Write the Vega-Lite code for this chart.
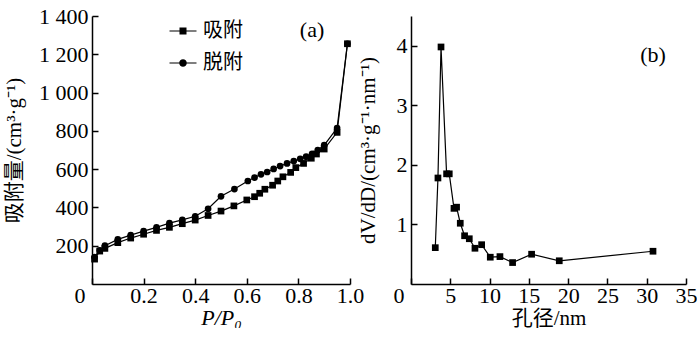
{
  "$schema": "https://vega.github.io/schema/vega-lite/v6.json",
  "autosize": {"type": "pad"},
  "padding": {"left": 3, "top": 5, "right": 0, "bottom": 0},
  "background": "white",
  "spacing": 61,
  "bounds": "flush",
  "config": {
    "view": {"stroke": null},
    "font": "Liberation Serif, Noto Sans CJK SC",
    "axis": {
      "grid": false,
      "domainColor": "black",
      "domainWidth": 1.5,
      "tickColor": "black",
      "tickWidth": 1.5,
      "tickSize": -6,
      "labelPadding": 10,
      "labelOverlap": false,
      "labelFont": "Liberation Serif",
      "labelFontSize": 22,
      "labelColor": "black",
      "titleFont": "Liberation Serif, Noto Sans CJK SC",
      "titleFontSize": 21,
      "titleFontWeight": "normal",
      "titleColor": "black"
    },
    "axisX": {"labelPadding": 7, "titlePadding": 1},
    "legend": {
      "labelFont": "Liberation Serif, Noto Sans CJK SC",
      "labelFontSize": 20,
      "labelColor": "black"
    }
  },
  "datasets": {
    "iso": [
      {"p": 0.01, "v": 130, "series": "吸附"},
      {"p": 0.03, "v": 172, "series": "吸附"},
      {"p": 0.05, "v": 186, "series": "吸附"},
      {"p": 0.10, "v": 216, "series": "吸附"},
      {"p": 0.15, "v": 240, "series": "吸附"},
      {"p": 0.20, "v": 260, "series": "吸附"},
      {"p": 0.25, "v": 280, "series": "吸附"},
      {"p": 0.30, "v": 296, "series": "吸附"},
      {"p": 0.35, "v": 315, "series": "吸附"},
      {"p": 0.40, "v": 334, "series": "吸附"},
      {"p": 0.45, "v": 358, "series": "吸附"},
      {"p": 0.50, "v": 381, "series": "吸附"},
      {"p": 0.55, "v": 408, "series": "吸附"},
      {"p": 0.60, "v": 439, "series": "吸附"},
      {"p": 0.63, "v": 456, "series": "吸附"},
      {"p": 0.65, "v": 474, "series": "吸附"},
      {"p": 0.67, "v": 495, "series": "吸附"},
      {"p": 0.70, "v": 516, "series": "吸附"},
      {"p": 0.72, "v": 538, "series": "吸附"},
      {"p": 0.74, "v": 560, "series": "吸附"},
      {"p": 0.77, "v": 583, "series": "吸附"},
      {"p": 0.79, "v": 608, "series": "吸附"},
      {"p": 0.82, "v": 630, "series": "吸附"},
      {"p": 0.85, "v": 657, "series": "吸附"},
      {"p": 0.87, "v": 679, "series": "吸附"},
      {"p": 0.90, "v": 705, "series": "吸附"},
      {"p": 0.95, "v": 792, "series": "吸附"},
      {"p": 0.99, "v": 1255, "series": "吸附"},
      {"p": 0.01, "v": 140, "series": "脱附"},
      {"p": 0.03, "v": 176, "series": "脱附"},
      {"p": 0.05, "v": 200, "series": "脱附"},
      {"p": 0.10, "v": 233, "series": "脱附"},
      {"p": 0.15, "v": 255, "series": "脱附"},
      {"p": 0.20, "v": 276, "series": "脱附"},
      {"p": 0.25, "v": 296, "series": "脱附"},
      {"p": 0.30, "v": 318, "series": "脱附"},
      {"p": 0.35, "v": 335, "series": "脱附"},
      {"p": 0.40, "v": 354, "series": "脱附"},
      {"p": 0.45, "v": 393, "series": "脱附"},
      {"p": 0.50, "v": 458, "series": "脱附"},
      {"p": 0.552, "v": 496, "series": "脱附"},
      {"p": 0.604, "v": 538, "series": "脱附"},
      {"p": 0.63, "v": 556, "series": "脱附"},
      {"p": 0.655, "v": 573, "series": "脱附"},
      {"p": 0.679, "v": 585, "series": "脱附"},
      {"p": 0.704, "v": 601, "series": "脱附"},
      {"p": 0.729, "v": 616, "series": "脱附"},
      {"p": 0.756, "v": 630, "series": "脱附"},
      {"p": 0.782, "v": 642, "series": "脱附"},
      {"p": 0.807, "v": 654, "series": "脱附"},
      {"p": 0.83, "v": 665, "series": "脱附"},
      {"p": 0.853, "v": 680, "series": "脱附"},
      {"p": 0.875, "v": 700, "series": "脱附"},
      {"p": 0.90, "v": 725, "series": "脱附"},
      {"p": 0.95, "v": 815, "series": "脱附"},
      {"p": 0.99, "v": 1255, "series": "脱附"}
    ],
    "psd": [
      {"d": 3.09, "dvdd": 0.61},
      {"d": 3.43, "dvdd": 1.78},
      {"d": 3.82, "dvdd": 3.98},
      {"d": 4.53, "dvdd": 1.85},
      {"d": 4.87, "dvdd": 1.85},
      {"d": 5.47, "dvdd": 1.27},
      {"d": 5.80, "dvdd": 1.29},
      {"d": 6.27, "dvdd": 1.02},
      {"d": 6.82, "dvdd": 0.81},
      {"d": 7.42, "dvdd": 0.76},
      {"d": 8.14, "dvdd": 0.60},
      {"d": 8.99, "dvdd": 0.66},
      {"d": 10.09, "dvdd": 0.45},
      {"d": 11.32, "dvdd": 0.46},
      {"d": 12.93, "dvdd": 0.36},
      {"d": 15.35, "dvdd": 0.50},
      {"d": 18.87, "dvdd": 0.39},
      {"d": 30.8, "dvdd": 0.55}
    ]
  },
  "hconcat": [
    {
      "width": 258,
      "height": 268,
      "layer": [
        {
          "data": {"name": "iso"},
          "mark": {"type": "line", "color": "black", "strokeWidth": 1.2},
          "encoding": {
            "x": {"field": "p", "type": "quantitative", "scale": {"domain": [0, 1]},
              "axis": {"values": [0, 0.2, 0.4, 0.6, 0.8, 1.0], "format": ".1f",
                "labelExpr": "datum.value == 0 ? '0' : datum.label",
                "labelAlign": {"condition": {"test": "datum.value == 0", "value": "right"}, "value": "center"},
                "labelOffset": {"condition": {"test": "datum.value == 0", "value": -7}, "value": 0},
                "title": "P/P₀", "titleFontStyle": "italic", "titleFont": "Liberation Serif", "titleFontSize": 22}},
            "y": {"field": "v", "type": "quantitative", "scale": {"domain": [0, 1400]},
              "axis": {"values": [200, 400, 600, 800, 1000, 1200, 1400],
                "labelExpr": "datum.value >= 1000 ? replace(format(datum.value, ','), ',', ' ') : datum.label",
                "title": "吸附量/(cm³·g⁻¹)", "titlePadding": 14}},
            "detail": {"field": "series"},
            "order": {"field": "p", "type": "quantitative"}
          }
        },
        {
          "data": {"name": "iso"},
          "mark": {"type": "point", "filled": true, "color": "black", "opacity": 1, "size": 45},
          "encoding": {
            "x": {"field": "p", "type": "quantitative"},
            "y": {"field": "v", "type": "quantitative"},
            "shape": {"field": "series", "type": "nominal",
              "scale": {"domain": ["吸附", "脱附"], "range": ["square", "circle"]}, "legend": null}
          }
        },
        {
          "data": {"name": "iso"},
          "transform": [{"filter": "false"}],
          "mark": {"type": "point", "filled": true, "color": "black", "opacity": 1},
          "encoding": {
            "x": {"field": "p", "type": "quantitative"},
            "y": {"field": "v", "type": "quantitative"},
            "shape": {"field": "series", "type": "nominal",
              "scale": {"domain": ["吸附", "脱附"], "range": [
                "M-1.35,-0.06H-0.3V0.06H-1.35Z M0.3,-0.06H1.35V0.06H0.3Z M-0.35,-0.35H0.35V0.35H-0.35Z",
                "M-1.35,-0.06H-0.3V0.06H-1.35Z M0.3,-0.06H1.35V0.06H0.3Z M0.38,0A0.38,0.38,0,1,1,-0.38,0A0.38,0.38,0,1,1,0.38,0Z"]},
              "legend": {"title": null, "orient": "none", "legendX": 81, "legendY": 5, "padding": 0,
                "symbolSize": 400, "symbolFillColor": "black", "symbolStrokeWidth": 0, "symbolOpacity": 1,
                "rowPadding": 12, "labelOffset": 10}}
          }
        },
        {
          "data": {"values": [{}]},
          "mark": {"type": "text", "fontSize": 22, "font": "Liberation Serif", "color": "black"},
          "encoding": {
            "x": {"datum": 0.853, "type": "quantitative"},
            "y": {"datum": 1327, "type": "quantitative"},
            "text": {"value": "(a)"}
          }
        }
      ],
      "resolve": {"scale": {"shape": "independent"}}
    },
    {
      "width": 275,
      "height": 268,
      "layer": [
        {
          "data": {"name": "psd"},
          "mark": {"type": "line", "color": "black", "strokeWidth": 1.2, "point": {"shape": "square", "size": 45, "filled": true, "color": "black"}},
          "encoding": {
            "x": {"field": "d", "type": "quantitative", "scale": {"domain": [0, 35], "nice": false},
              "axis": {"values": [0, 5, 10, 15, 20, 25, 30, 35], "format": "d",
                "labelOverlap": false, "labelBound": false,
                "labelAlign": {"condition": {"test": "datum.value == 0", "value": "right"}, "value": "center"},
                "labelOffset": {"condition": {"test": "datum.value == 0", "value": -7}, "value": 0},
                "title": "孔径/nm", "titleFontSize": 21}},
            "y": {"field": "dvdd", "type": "quantitative", "scale": {"domain": [0, 4.03]},
              "axis": {"values": [1, 2, 3, 4], "format": "d", "title": "dV/dD/(cm³·g⁻¹·nm⁻¹)", "titlePadding": 18}}
          }
        },
        {
          "data": {"values": [{}]},
          "mark": {"type": "text", "fontSize": 22, "font": "Liberation Serif", "color": "black"},
          "encoding": {
            "x": {"datum": 30.8, "type": "quantitative",
              "axis": {"values": [0, 5, 10, 15, 20, 25, 30, 35], "format": "d",
                "labelOverlap": false, "labelBound": false,
                "labelAlign": {"condition": {"test": "datum.value == 0", "value": "right"}, "value": "center"},
                "labelOffset": {"condition": {"test": "datum.value == 0", "value": -7}, "value": 0},
                "title": "孔径/nm", "titleFontSize": 21}},
            "y": {"datum": 3.85, "type": "quantitative",
              "axis": {"values": [1, 2, 3, 4], "format": "d", "title": "dV/dD/(cm³·g⁻¹·nm⁻¹)", "titlePadding": 18}},
            "text": {"value": "(b)"}
          }
        }
      ]
    }
  ]
}
